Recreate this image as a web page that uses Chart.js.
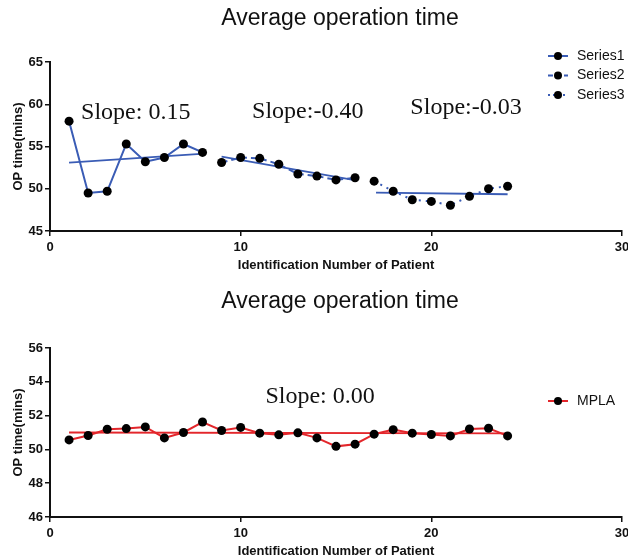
<!DOCTYPE html>
<html><head><meta charset="utf-8">
<script src="https://cdn.jsdelivr.net/npm/chart.js@4/dist/chart.umd.min.js"></script>
<style>
html,body{margin:0;padding:0;background:#fff;overflow:hidden;}
#wrap{position:relative;width:628px;height:560px;}
.box{position:absolute;left:0;width:628px;height:280px;}
</style></head><body>
<div id="wrap">
<div class="box" style="top:0"><canvas id="c1" width="628" height="280"></canvas></div>
<div class="box" style="top:286px"><canvas id="c2" width="628" height="280"></canvas></div>
</div>
<script>
// ---- text ----
const chartTitle = "Average operation time";
const xAxisTitle = "Identification Number of Patient";
const yAxisTitle = "OP time(mins)";
const legendTop = ["Series1", "Series2", "Series3"];
const legendBottom = ["MPLA"];
const slopeTextsTop = ["Slope: 0.15", "Slope:-0.40", "Slope:-0.03"];
const slopeTextsBottom = ["Slope: 0.00"];

// ---- top chart data ----
const ids1 = [1, 2, 3, 4, 5, 6, 7, 8];
const ids2 = [9, 10, 11, 12, 13, 14, 15, 16];
const ids3 = [17, 18, 19, 20, 21, 22, 23, 24];
const series1 = [58.0, 49.5, 49.7, 55.3, 53.2, 53.7, 55.3, 54.3];
const series2 = [53.1, 53.7, 53.6, 52.9, 51.75, 51.5, 51.05, 51.3];
const series3 = [50.9, 49.7, 48.7, 48.5, 48.05, 49.1, 50.0, 50.3];
const trend1X = [1, 8.1];   const trend1Y = [53.1, 54.15];
const trend2X = [9, 15.9];  const trend2Y = [53.8, 51.05];
const trend3X = [17.1, 24]; const trend3Y = [49.55, 49.35];
const yTicksTop = [45, 50, 55, 60, 65];

// ---- bottom chart data ----
const idsAll = [1,2,3,4,5,6,7,8,9,10,11,12,13,14,15,16,17,18,19,20,21,22,23,24];
const mpla = [50.56, 50.82, 51.19, 51.23, 51.33, 50.68, 51.0, 51.62, 51.12, 51.3, 50.96, 50.86,
              50.98, 50.68, 50.18, 50.31, 50.9, 51.17, 50.96, 50.88, 50.8, 51.21, 51.25, 50.8];
const trendMX = [1, 24]; const trendMY = [51.0, 50.95];
const yTicksBottom = [46, 48, 50, 52, 54, 56];
const xTicks = [0, 10, 20, 30];

// ---- helpers ----
const pts = (xs, ys) => xs.map((x, i) => ({x: x, y: ys[i]}));
const BLUE = '#3a5cb5';
const RED = '#e3262b';
const SANS = '"Liberation Sans", Arial, Helvetica, sans-serif';
const SERIF = '"Liberation Serif", "Times New Roman", serif';

const overlay = {
  id: 'overlay',
  afterDraw(chart, args, o) {
    const ctx = chart.ctx, xs = chart.scales.x, ys = chart.scales.y;
    ctx.save();
    ctx.fillStyle = '#111';
    ctx.font = '23px ' + SANS;
    ctx.textAlign = 'center'; ctx.textBaseline = 'middle';
    ctx.fillText(chartTitle, o.titleX, o.titleY);
    ctx.font = '24px ' + SERIF;
    ctx.textAlign = 'left'; ctx.textBaseline = 'alphabetic';
    o.notes.forEach(n => ctx.fillText(n.text, xs.getPixelForValue(n.x), ys.getPixelForValue(n.y)));
    // legend
    o.legend.forEach((it, i) => {
      const y = o.legY + i * o.legGap;
      ctx.strokeStyle = it.color; ctx.lineWidth = 2;
      ctx.setLineDash(it.dash || []);
      ctx.beginPath(); ctx.moveTo(548, y); ctx.lineTo(568, y); ctx.stroke();
      ctx.setLineDash([]);
      ctx.fillStyle = '#000';
      ctx.beginPath(); ctx.arc(558, y, 4, 0, Math.PI * 2); ctx.fill();
      ctx.fillStyle = '#111';
      ctx.font = '14px ' + SANS; ctx.textBaseline = 'middle';
      ctx.fillText(it.text, 577, y);
    });
    ctx.restore();
  }
};

function makeScales(yTicks) {
  return {
    x: {
      type: 'linear', min: xTicks[0], max: xTicks[xTicks.length - 1],
      afterBuildTicks: s => { s.ticks = xTicks.map(v => ({value: v})); },
      ticks: {color: '#111', font: {family: SANS, size: 13, weight: 'bold'}, padding: 3.5},
      grid: {display: true, drawOnChartArea: false, drawTicks: true, tickLength: 5, color: '#111', lineWidth: 1.5},
      border: {display: true, color: '#111', width: 2},
      title: {display: true, text: xAxisTitle, color: '#111', font: {family: SANS, size: 13, weight: 'bold'}, padding: {top: 0, bottom: 7}},
      afterFit: s => { s.height = 49; s.paddingLeft = 0; s.paddingRight = 0; }
    },
    y: {
      type: 'linear', min: yTicks[0], max: yTicks[yTicks.length - 1],
      afterBuildTicks: s => { s.ticks = yTicks.map(v => ({value: v})); },
      ticks: {color: '#111', font: {family: SANS, size: 13, weight: 'bold'}, padding: 2},
      grid: {display: true, drawOnChartArea: false, drawTicks: true, tickLength: 5, color: '#111', lineWidth: 1.5},
      border: {display: true, color: '#111', width: 2},
      title: {display: true, text: yAxisTitle, color: '#111', font: {family: SANS, size: 13, weight: 'bold'}, padding: {top: 11, bottom: 0}},
      afterFit: s => { s.width = 50; s.paddingTop = 0; s.paddingBottom = 0; }
    }
  };
}

function dataSet(data, color, dash) {
  return {data: data, showLine: true, borderColor: color, borderWidth: 2, borderDash: dash || [],
          pointRadius: 4.5, pointHoverRadius: 4.5, pointBackgroundColor: '#000', pointBorderColor: '#000', pointBorderWidth: 0, tension: 0};
}
function trendSet(data, color) {
  return {data: data, showLine: true, borderColor: color, borderWidth: 1.8, pointRadius: 0, tension: 0};
}

const common = {
  responsive: false, animation: false, events: [],
  layout: {padding: {left: 0, right: 6, top: 62, bottom: 0}},
  plugins: {legend: {display: false}, tooltip: {enabled: false}, title: {display: false}}
};

new Chart(document.getElementById('c1'), {
  type: 'scatter',
  data: {datasets: [
    dataSet(pts(ids1, series1), BLUE),
    dataSet(pts(ids2, series2), BLUE, [6, 4]),
    dataSet(pts(ids3, series3), BLUE, [2, 5]),
    trendSet(pts(trend1X, trend1Y), BLUE),
    trendSet(pts(trend2X, trend2Y), BLUE),
    trendSet(pts(trend3X, trend3Y), BLUE)
  ]},
  options: Object.assign({}, common, {
    scales: makeScales(yTicksTop),
    plugins: Object.assign({}, common.plugins, {overlay: {
      titleX: 340, titleY: 19,
      notes: [
        {text: slopeTextsTop[0], x: 1.63, y: 58.2},
        {text: slopeTextsTop[1], x: 10.6, y: 58.4},
        {text: slopeTextsTop[2], x: 18.9, y: 58.8}
      ],
      legY: 56, legGap: 19.5,
      legend: [
        {text: legendTop[0], color: BLUE, dash: []},
        {text: legendTop[1], color: BLUE, dash: [5, 3]},
        {text: legendTop[2], color: BLUE, dash: [2, 3]}
      ]
    }})
  }),
  plugins: [overlay]
});

new Chart(document.getElementById('c2'), {
  type: 'scatter',
  data: {datasets: [
    dataSet(pts(idsAll, mpla), RED),
    trendSet(pts(trendMX, trendMY), RED)
  ]},
  options: Object.assign({}, common, {
    scales: makeScales(yTicksBottom),
    plugins: Object.assign({}, common.plugins, {overlay: {
      titleX: 340, titleY: 16,
      notes: [{text: slopeTextsBottom[0], x: 11.3, y: 52.76}],
      legY: 115, legGap: 0,
      legend: [{text: legendBottom[0], color: RED, dash: []}]
    }})
  }),
  plugins: [overlay]
});
</script>
</body></html>
